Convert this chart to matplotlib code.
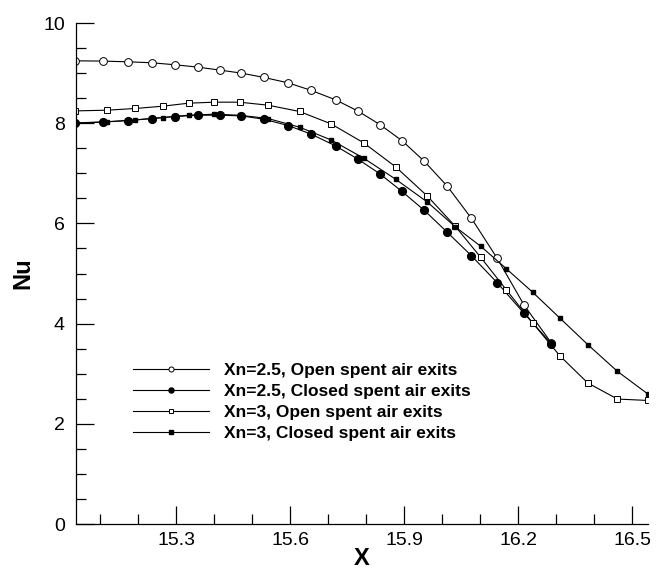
import matplotlib
matplotlib.use("Agg")
import matplotlib.pyplot as plt
from matplotlib.ticker import MultipleLocator

plt.rcParams['font.family'] = ['Liberation Sans', 'DejaVu Sans']

# Xn=2.5 series (open / closed spent air exits)
x25 = [15.035, 15.107, 15.174, 15.238, 15.298, 15.357, 15.416, 15.472, 15.531, 15.595,
       15.656, 15.720, 15.779, 15.836, 15.894, 15.953, 16.013, 16.077, 16.145, 16.215, 16.287]
nu25_open = [9.246, 9.240, 9.226, 9.206, 9.166, 9.120, 9.060, 9.000, 8.914, 8.806,
             8.654, 8.466, 8.240, 7.974, 7.654, 7.240, 6.746, 6.100, 5.300, 4.374, 3.614]
nu25_closed = [8.006, 8.026, 8.054, 8.094, 8.134, 8.160, 8.160, 8.146, 8.080, 7.954,
               7.780, 7.546, 7.280, 6.990, 6.640, 6.260, 5.826, 5.354, 4.814, 4.206, 3.600]

# Xn=3 series
x3 = [15.035, 15.118, 15.193, 15.265, 15.333, 15.400, 15.467, 15.542, 15.625, 15.708,
      15.794, 15.878, 15.961, 16.034, 16.101, 16.168, 16.238, 16.309, 16.383, 16.461, 16.541]
nu3_open = [8.246, 8.260, 8.294, 8.340, 8.400, 8.420, 8.420, 8.360, 8.234, 7.986,
            7.606, 7.126, 6.546, 5.946, 5.326, 4.680, 4.014, 3.360, 2.814, 2.494, 2.466]
nu3_closed = [8.000, 8.026, 8.066, 8.114, 8.160, 8.180, 8.160, 8.094, 7.920, 7.666,
              7.300, 6.880, 6.426, 5.934, 5.546, 5.100, 4.626, 4.114, 3.580, 3.046, 2.594]

labels = ["Xn=2.5, Open spent air exits", "Xn=2.5, Closed spent air exits",
          "Xn=3, Open spent air exits", "Xn=3, Closed spent air exits"]

fig = plt.figure(figsize=(6.68, 5.70), dpi=100)
ax = fig.add_axes([0.1138, 0.0807, 0.8567, 0.8789])

lw = 0.8
ax.plot(x25, nu25_open, color='k', lw=lw, marker='o', ms=5.6, mfc='white', mec='k', mew=0.7, label=labels[0])
ax.plot(x25, nu25_closed, color='k', lw=lw, marker='o', ms=5.6, mfc='k', mec='k', label=labels[1])
ax.plot(x3, nu3_open, color='k', lw=lw, marker='s', ms=3.9, mfc='white', mec='k', mew=0.7, label=labels[2])
ax.plot(x3, nu3_closed, color='k', lw=lw, marker='s', ms=3.5, mfc='k', mec='k', label=labels[3])

ax.set_xlim(15.037, 16.542)
ax.set_ylim(0, 10)
ax.xaxis.set_major_locator(MultipleLocator(0.3))
ax.xaxis.set_minor_locator(MultipleLocator(0.1))
ax.yaxis.set_major_locator(MultipleLocator(2))
ax.yaxis.set_minor_locator(MultipleLocator(0.5))
ax.set_xticks([15.3, 15.6, 15.9, 16.2, 16.5])
ax.set_xticklabels(["15.3", "15.6", "15.9", "16.2", "16.5"])
ax.tick_params(which='major', direction='in', length=13, width=0.9, labelsize=14, pad=6)
ax.tick_params(which='minor', direction='in', length=7, width=0.9)
ax.tick_params(axis='y', which='major', pad=8)
ax.spines['top'].set_visible(False)
ax.spines['right'].set_visible(False)
for s in ('left', 'bottom'):
    ax.spines[s].set_linewidth(0.9)

ax.set_xlabel("X", fontsize=17, fontweight='bold', labelpad=-2)
ax.set_ylabel("Nu", fontsize=17, fontweight='bold', labelpad=6)

ax.legend(loc='upper left', bbox_to_anchor=(0.199, 0.363), bbox_transform=fig.transFigure,
          frameon=False, prop={'weight': 'bold', 'size': 12.5}, handlelength=4.4,
          handletextpad=0.85, labelspacing=0.33, borderpad=0, borderaxespad=0, markerscale=0.65)

fig.savefig("out.png", dpi=100)
